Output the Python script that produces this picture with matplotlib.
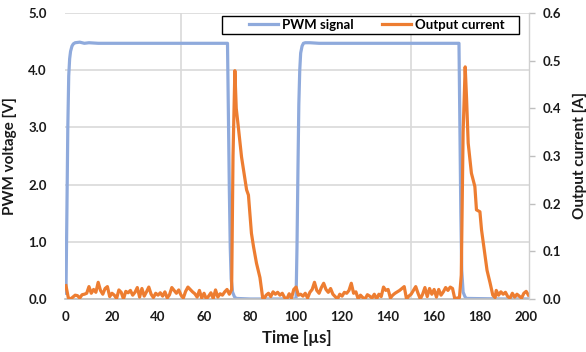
import numpy as np
import matplotlib.pyplot as plt
from matplotlib.patches import Rectangle
from matplotlib.ticker import MultipleLocator, FormatStrFormatter

plt.rcParams['font.family'] = ['Lato', 'DejaVu Sans']
plt.rcParams['font.weight'] = 'bold'

# PWM signal [V] (breakpoints)
pwm_t = [0, 0.4, 0.8, 1.2, 1.6, 2.0, 2.6, 3.2, 4, 6, 8, 10, 14, 20, 40, 50, 60, 70.2,
         70.6, 71.0, 71.4, 71.8, 72.4, 73.2, 74, 80, 100.0, 100.4, 100.8, 101.2,
         101.6, 102.0, 102.6, 103.2, 104, 106, 110, 130, 150, 170.8, 171.2, 171.6,
         172.0, 172.6, 173.4, 174, 190, 201.5]
pwm_v = [0.1, 1.5, 3.0, 3.9, 4.2, 4.33, 4.42, 4.46, 4.48, 4.49, 4.47, 4.48, 4.47,
         4.47, 4.47, 4.47, 4.47, 4.47, 3.2, 1.9, 0.9, 0.35, 0.12, 0.04, 0.01, 0.0,
         0.0, 0.9, 2.2, 3.4, 4.0, 4.3, 4.42, 4.47, 4.48, 4.48, 4.47, 4.47, 4.47,
         4.47, 3.0, 1.5, 0.5, 0.12, 0.04, 0.01, 0.0, 0.0]

# output current [A]
cur_t = list(range(0, 72)) + [72.0, 72.6, 73.4, 74.0, 74.9, 76.3, 78.5, 79.3, 80.6,
         81.5, 82.8, 84.3, 85.5] + list(range(86, 172)) + [171.8, 172.6, 173.5, 174.1,
         174.8, 176.2, 177.7, 178.4, 179.9, 180.6, 182.0, 183.0, 184.3, 185.5, 186.5] \
         + list(range(187, 202))
cur_a = [0.028, 0.003, 0.0, 0.004, 0.008, 0.007, 0.002, 0.009, 0.010, 0.012,
         0.026, 0.012, 0.020, 0.014, 0.035, 0.018, 0.010, 0.022, 0.026, 0.005,
         0.012, 0.008, 0.001, 0.019, 0.014, 0.0, 0.016, 0.013, 0.018, 0.008,
         0.014, 0.024, 0.004, 0.022, 0.006, 0.015, 0.025, 0.010, 0.003, 0.012,
         0.008, 0.013, 0.006, 0.015, 0.002, 0.009, 0.024, 0.018, 0.012, 0.019,
         0.008, 0.002, 0.016, 0.025, 0.020, 0.015, 0.011, 0.004, 0.018, 0.002,
         0.012, 0.0, 0.006, 0.013, 0.001, 0.019, 0.004, 0.011, 0.008, 0.015,
         0.020, 0.010,
         0.02, 0.30, 0.479, 0.40, 0.361, 0.298, 0.229, 0.218, 0.138, 0.11, 0.075,
         0.045, 0.002,
         0.0, 0.008, 0.012, 0.005, 0.015, 0.010, 0.014, 0.008, 0.012, 0.003,
         0.0, 0.011, 0.002, 0.020,
         0.025, 0.008, 0.010, 0.006, 0.012, 0.002, 0.014, 0.020, 0.035, 0.018,
         0.012, 0.024, 0.033, 0.020, 0.014, 0.022, 0.010, 0.005, 0.0, 0.010,
         0.006, 0.014, 0.012, 0.018, 0.033, 0.012, 0.015, 0.0, 0.008, 0.003,
         0.0, 0.009, 0.006, 0.002, 0.010, 0.0, 0.010, 0.005, 0.025, 0.018,
         0.020, 0.002, 0.008, 0.012, 0.015, 0.018, 0.022, 0.026, 0.0, 0.006,
         0.010, 0.018, 0.026, 0.012, 0.0, 0.010, 0.024, 0.005, 0.022, 0.010,
         0.020, 0.004, 0.020, 0.008, 0.015, 0.024, 0.018, 0.025, 0.022, 0.0,
         0.002, 0.003,
         0.05, 0.35, 0.487, 0.42, 0.327, 0.264, 0.236, 0.187, 0.183, 0.145, 0.095,
         0.06, 0.034, 0.008, 0.003,
         0.018, 0.008, 0.015, 0.010, 0.014, 0.005, 0.002, 0.012, 0.004, 0.010,
         0.006, 0.002, 0.012, 0.016, 0.008]

blue = '#8FAADC'
orange = '#ED7D31'
grid_c = '#D9D9D9'
txt_c = '#1a1a1a'

fig = plt.figure(figsize=(5.86, 3.52), dpi=100)
ax = fig.add_axes([0.111, 0.1506, 0.792, 0.8125])
ax2 = ax.twinx()

l1, = ax.plot(pwm_t, pwm_v, color=blue, lw=2.3, label='PWM signal')
l2, = ax2.plot(cur_t, cur_a, color=orange, lw=2.3, label='Output current')

ax.set_xlim(-0.4, 201.3)
ax.set_ylim(0, 5)
ax2.set_ylim(0, 0.6)

ax.xaxis.set_major_locator(MultipleLocator(20))
ax.xaxis.set_minor_locator(MultipleLocator(50))
ax.yaxis.set_major_locator(MultipleLocator(1))
ax.yaxis.set_major_formatter(FormatStrFormatter('%.1f'))
ax2.yaxis.set_major_locator(MultipleLocator(0.1))
ax2.yaxis.set_major_formatter(FormatStrFormatter('%.1f'))

ax.grid(True, axis='y', which='major', color=grid_c, lw=1.2)
ax.grid(True, axis='x', which='minor', color=grid_c, lw=1.2)
ax.set_axisbelow(True)

for a in (ax, ax2):
    for s in a.spines.values():
        s.set_visible(False)
ax.spines['bottom'].set_visible(True)
ax.spines['bottom'].set_color('#BFBFBF')
ax.spines['bottom'].set_linewidth(1.2)
ax2.spines['right'].set_visible(True)
ax2.spines['right'].set_color('#D0D0D0')
ax2.spines['right'].set_linewidth(1.0)

ax.tick_params(axis='x', which='both', length=0, pad=9, labelsize=9.5, labelcolor=txt_c)
ax.tick_params(axis='y', length=0, pad=13, labelsize=9.5, labelcolor=txt_c)
ax2.tick_params(axis='y', length=4, width=1, color='#BFBFBF', pad=6, labelsize=9.5,
                labelcolor=txt_c)

ax.set_xlabel('Time [µs]', fontsize=12, fontweight='bold', color=txt_c, labelpad=5)
ax.set_ylabel('PWM voltage [V]', fontsize=11, fontweight='bold', color=txt_c, labelpad=8)
ax2.set_ylabel('Output current [A]', fontsize=11, fontweight='bold', color=txt_c,
               labelpad=8)

# legend box like Excel: wide frame with padding around the entries
ax2.add_patch(Rectangle((0.338, 0.927), 0.640, 0.0625, transform=ax2.transAxes,
                        facecolor='white', edgecolor='black', lw=1.0, zorder=5,
                        clip_on=False))
leg = ax2.legend(handles=[l1, l2], ncol=2, loc='center left',
                 bbox_to_anchor=(0.397, 0.958), borderaxespad=0, borderpad=0,
                 frameon=False, fontsize=9.5, handlelength=2.2,
                 columnspacing=2.2, handletextpad=0.25)
leg.set_zorder(6)

fig.savefig('out.png', dpi=100)
